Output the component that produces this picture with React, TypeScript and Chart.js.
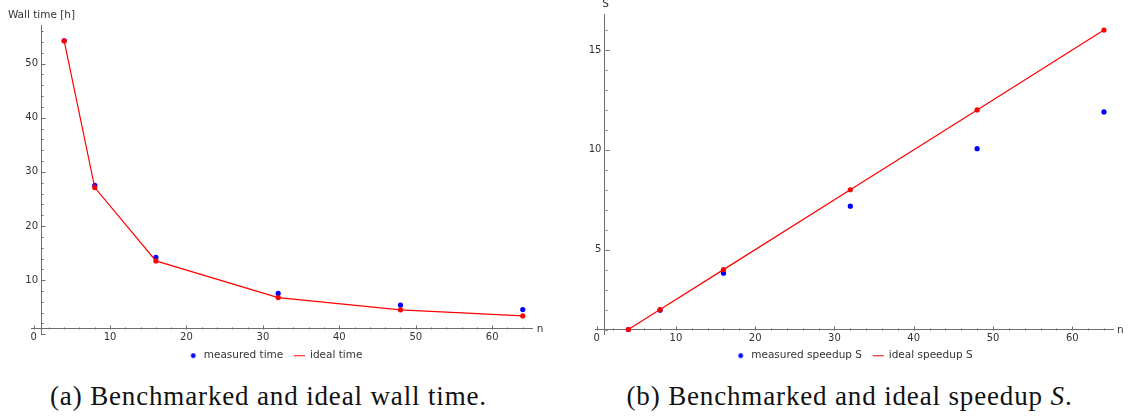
import React, { useEffect, useRef } from "react";
import { Chart, registerables } from "chart.js";

Chart.register(...registerables);

// ---- data ----
const nValues = [4, 8, 16, 32, 48, 64];
const measuredTime = [54.2, 27.5, 14.2, 7.55, 5.39, 4.56];
const idealTime = [54.2, 27.1, 13.55, 6.78, 4.52, 3.39];
const measuredSpeedup = [1, 1.97, 3.82, 7.18, 10.06, 11.9];
const idealSpeedup = [1, 2, 4, 8, 12, 16];

// ---- ticks ----
const nTickLabels = [0, 10, 20, 30, 40, 50, 60];
const nMinorTicks = [2, 4, 6, 8, 12, 14, 16, 18, 22, 24, 26, 28, 32, 34, 36, 38, 42, 44, 46, 48, 52, 54, 56, 58, 62, 64];
const timeTickLabels = [10, 20, 30, 40, 50];
const timeMajorTicks = [0, 10, 20, 30, 40, 50];
const timeMinorTicks = [2, 4, 6, 8, 12, 14, 16, 18, 22, 24, 26, 28, 32, 34, 36, 38, 42, 44, 46, 48, 52, 54, 56];
const speedupTickLabels = [5, 10, 15];
const speedupMinorTicks = [1, 2, 3, 4, 6, 7, 8, 9, 11, 12, 13, 14, 16];

const BLUE = "rgb(0,0,255)";
const RED = "rgb(255,0,0)";
const AXIS = "rgb(110,110,110)";
const TEXT = "#333";
const SANS = "'DejaVu Sans', sans-serif";

function makeDot(color: string, r: number) {
  const c = document.createElement("canvas");
  const s = Math.ceil(r * 2) + 2;
  c.width = s;
  c.height = s;
  const g = c.getContext("2d")!;
  g.fillStyle = color;
  g.beginPath();
  g.arc(s / 2, s / 2, r, 0, Math.PI * 2);
  g.fill();
  return c;
}

const mmaAxes = {
  id: "mmaAxes",
  beforeDatasetsDraw(chart: any, _args: any, o: any) {
    const { ctx, chartArea } = chart;
    const xs = chart.scales.x;
    const ys = chart.scales.y;
    const ay = Math.round(ys.getPixelForValue(o.crossY)) + 0.5;
    const ax = Math.round(xs.getPixelForValue(o.crossX)) + 0.5;
    ctx.save();
    ctx.strokeStyle = AXIS;
    ctx.lineWidth = 1;
    ctx.beginPath();
    const tick = (vals: number[], len: number, horiz: boolean) => {
      vals.forEach((v) => {
        if (horiz) {
          const px = Math.round(xs.getPixelForValue(v)) + 0.5;
          ctx.moveTo(px, ay);
          ctx.lineTo(px, ay - len);
        } else {
          const py = Math.round(ys.getPixelForValue(v)) + 0.5;
          ctx.moveTo(ax, py);
          ctx.lineTo(ax + len, py);
        }
      });
    };
    tick(o.xMajor, 4, true);
    tick(o.xMinor, 2, true);
    tick(o.yMajor, 4, false);
    tick(o.yMinor, 2, false);
    ctx.stroke();
    ctx.fillStyle = TEXT;
    ctx.font = `10.5px ${SANS}`;
    ctx.textBaseline = "middle";
    ctx.textAlign = "center";
    ctx.fillText(o.yTitle, ax, chartArea.top - 10);
    ctx.textAlign = "left";
    ctx.fillText(o.xTitle, chartArea.right + 4, ay);
    ctx.restore();
  },
};

const legendShift = {
  id: "legendShift",
  afterLayout(chart: any, _a: any, o: any) {
    if (chart.legend && o.dx) {
      chart.legend.left += o.dx;
      chart.legend.right += o.dx;
    }
  },
};

type PlotProps = {
  left: number;
  width: number;
  height: number;
  padding: { left: number; right: number; top: number; bottom: number };
  xMin: number;
  xMax: number;
  yMin: number;
  yMax: number;
  measured: number[];
  ideal: number[];
  measuredLabel: string;
  idealLabel: string;
  yTickLabels: number[];
  yMajor: number[];
  yMinor: number[];
  yTitle: string;
  legendDx: number;
};

function MmaPlot(p: PlotProps) {
  const ref = useRef<HTMLCanvasElement>(null);
  useEffect(() => {
    const canvas = ref.current!;
    const dot = makeDot(BLUE, 2.4);
    const chart = new Chart(canvas, {
      type: "scatter",
      data: {
        datasets: [
          {
            label: p.measuredLabel,
            data: nValues.map((n, i) => ({ x: n, y: p.measured[i] })),
            showLine: false,
            pointRadius: 2.6,
            pointBorderWidth: 0,
            pointBackgroundColor: BLUE,
            backgroundColor: BLUE,
            borderColor: BLUE,
            order: 1,
          },
          {
            label: p.idealLabel,
            data: nValues.map((n, i) => ({ x: n, y: p.ideal[i] })),
            showLine: true,
            borderWidth: 1.2,
            borderColor: RED,
            backgroundColor: RED,
            pointRadius: 2.6,
            pointBorderWidth: 0,
            pointBackgroundColor: RED,
            order: 0,
          },
        ],
      },
      options: {
        animation: false,
        responsive: false,
        devicePixelRatio: 1,
        events: [],
        layout: { padding: p.padding },
        scales: {
          x: {
            type: "linear",
            min: p.xMin,
            max: p.xMax,
            position: { y: 1 } as any,
            afterBuildTicks: (s: any) => {
              s.ticks = nTickLabels.map((v) => ({ value: v }));
            },
            grid: { display: false, drawTicks: false },
            border: { display: true, color: AXIS, width: 1 },
            ticks: {
              autoSkip: false,
              maxRotation: 0,
              padding: 3,
              color: TEXT,
              font: { size: 10, family: SANS },
            },
          },
          y: {
            type: "linear",
            min: p.yMin,
            max: p.yMax,
            position: { x: 1 } as any,
            afterBuildTicks: (s: any) => {
              s.ticks = p.yTickLabels.map((v) => ({ value: v }));
            },
            grid: { display: false, drawTicks: false },
            border: { display: true, color: AXIS, width: 1 },
            ticks: {
              autoSkip: false,
              padding: 3,
              color: TEXT,
              font: { size: 10, family: SANS },
              callback: (v: any) => `${v} `,
            },
          },
        },
        plugins: {
          tooltip: { enabled: false },
          legend: {
            display: true,
            position: "bottom",
            title: { display: true, text: "", font: { size: 1 }, padding: { top: 4, bottom: 0 } },
            labels: {
              usePointStyle: true,
              boxHeight: 7.8,
              padding: 11,
              color: TEXT,
              font: { size: 10.5, family: SANS },
              sort: (a: any, b: any) => a.datasetIndex - b.datasetIndex,
              generateLabels: (chart: any) => {
                const items = Chart.defaults.plugins.legend.labels.generateLabels(chart);
                return items.map((it: any) =>
                  it.datasetIndex === 0
                    ? { ...it, pointStyle: dot, lineWidth: 0 }
                    : { ...it, pointStyle: "line", strokeStyle: RED, lineWidth: 1.2 }
                );
              },
            },
          },
          mmaAxes: {
            crossX: 1,
            crossY: 1,
            xMajor: nTickLabels,
            xMinor: nMinorTicks,
            yMajor: p.yMajor,
            yMinor: p.yMinor,
            yTitle: p.yTitle,
            xTitle: "n",
          },
          legendShift: { dx: p.legendDx },
        } as any,
      },
      plugins: [mmaAxes, legendShift],
    } as any);
    return () => chart.destroy();
  }, []);
  return (
    <canvas
      ref={ref}
      width={p.width}
      height={p.height}
      style={{ position: "absolute", left: p.left, top: 0, width: p.width, height: p.height }}
    />
  );
}

const captionStyle: React.CSSProperties = {
  position: "absolute",
  top: 383,
  width: 540,
  textAlign: "center",
  fontFamily: "'Liberation Serif', serif",
  fontSize: 27,
  lineHeight: "27px",
  letterSpacing: "0.85px",
  color: "#111",
  whiteSpace: "nowrap",
};

export default function App() {
  return (
    <div style={{ position: "absolute", left: 0, top: 0, width: 1128, height: 416, background: "#fff", overflow: "hidden" }}>
      <MmaPlot
        left={0}
        width={560}
        height={372}
        padding={{ left: 31.7, right: 27.3, top: 25.7, bottom: 1 }}
        xMin={-0.25}
        xMax={65.3}
        yMin={0}
        yMax={57}
        measured={measuredTime}
        ideal={idealTime}
        measuredLabel="measured time"
        idealLabel="ideal time"
        yTickLabels={timeTickLabels}
        yMajor={timeMajorTicks}
        yMinor={timeMinorTicks}
        yTitle="Wall time [h]"
        legendDx={-7}
      />
      <MmaPlot
        left={560}
        width={568}
        height={372}
        padding={{ left: 35, right: 15, top: 14.3, bottom: 1 }}
        xMin={-0.21}
        xMax={65.14}
        yMin={0.76}
        yMax={16.79}
        measured={measuredSpeedup}
        ideal={idealSpeedup}
        measuredLabel="measured speedup S"
        idealLabel="ideal speedup S"
        yTickLabels={speedupTickLabels}
        yMajor={speedupTickLabels}
        yMinor={speedupMinorTicks}
        yTitle="S"
        legendDx={0}
      />
      <div style={{ ...captionStyle, left: 268.5 - 270 }}>(a) Benchmarked and ideal wall time.</div>
      <div style={{ ...captionStyle, left: 849.5 - 270 }}>
        (b) Benchmarked and ideal speedup <i>S</i>.
      </div>
    </div>
  );
}
